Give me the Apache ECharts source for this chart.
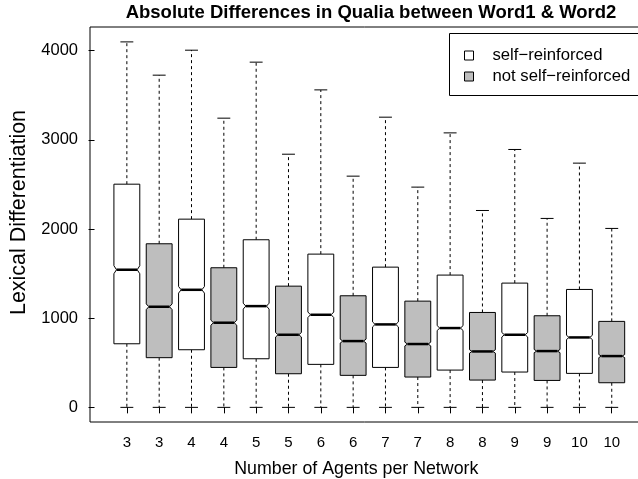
<!DOCTYPE html>
<html>
<head>
<meta charset="utf-8">
<script src="https://cdn.jsdelivr.net/npm/echarts@6/dist/echarts.min.js"></script>
<style>
  html, body { margin: 0; padding: 0; background: #fff; }
  #chart { width: 638px; height: 479px; }
</style>
</head>
<body>
<div id="chart"></div>
<script>
// data (one box per group, alternating type)
const categories = ['3', '3', '4', '4', '5', '5', '6', '6', '7', '7', '8', '8', '9', '9', '10', '10'];
const boxType = ['self', 'not', 'self', 'not', 'self', 'not', 'self', 'not',
                 'self', 'not', 'self', 'not', 'self', 'not', 'self', 'not'];
const whiskerLow = [0, 0, 0, 0, 0, 0, 0, 0, 0, 0, 0, 0, 0, 0, 0, 0];
const q1 = [713, 557, 646, 448, 545, 377, 482, 359, 448, 340, 418, 306, 396, 302, 381, 276];
const median = [1543, 1128, 1318, 949, 1135, 814, 1038, 743, 930, 710, 889, 627, 814, 631, 784, 575];
const q3 = [2502, 1834, 2110, 1565, 1879, 1359, 1718, 1251, 1572, 1191, 1483, 1064, 1393, 1027, 1322, 964];
const whiskerHigh = [4097, 3724, 4004, 3242, 3870, 2838, 3559, 2592, 3253, 2469, 3077, 2207, 2891, 2118, 2738, 2006];
// half height of the notch around the median
const notch = [45, 32, 37, 28, 33, 25, 31, 22, 28, 21, 27, 19, 25, 18, 24, 17];
const yTicks = [0, 1000, 2000, 3000, 4000];

const FONT = 'Liberation Sans, Arial, Helvetica, sans-serif';
const positions = categories.map((c, i) => i + 1);

function boxData(type) {
  const out = [];
  categories.forEach((c, i) => {
    if (boxType[i] !== type) return;
    out.push([positions[i], whiskerLow[i], q1[i], median[i], q3[i], whiskerHigh[i], notch[i]]);
  });
  return out;
}

function renderBox(params, api) {
  const x = api.value(0);
  const lo = api.coord([x, api.value(1)]);
  const b1 = api.coord([x, api.value(2)]);
  const md = api.coord([x, api.value(3)]);
  const b3 = api.coord([x, api.value(4)]);
  const hi = api.coord([x, api.value(5)]);
  const nLo = api.coord([x, api.value(3) - api.value(6)]);
  const nHi = api.coord([x, api.value(3) + api.value(6)]);
  const w = api.size([0.8, 0])[0] / 2;
  const nw = w * 0.8;
  const cx = md[0];
  const cap = w / 2;
  const stroke = { stroke: '#000', lineWidth: 1 };
  const dashed = { stroke: '#000', lineWidth: 1, lineDash: [3, 3] };
  return {
    type: 'group',
    children: [
      { type: 'line', shape: { x1: cx, y1: b3[1], x2: cx, y2: hi[1] }, style: dashed },
      { type: 'line', shape: { x1: cx, y1: b1[1], x2: cx, y2: lo[1] }, style: dashed },
      { type: 'line', shape: { x1: cx - cap, y1: hi[1], x2: cx + cap, y2: hi[1] }, style: stroke },
      { type: 'line', shape: { x1: cx - cap, y1: lo[1], x2: cx + cap, y2: lo[1] }, style: stroke },
      {
        type: 'polygon',
        shape: {
          points: [
            [cx - w, b1[1]], [cx - w, nLo[1]], [cx - nw, md[1]], [cx - w, nHi[1]], [cx - w, b3[1]],
            [cx + w, b3[1]], [cx + w, nHi[1]], [cx + nw, md[1]], [cx + w, nLo[1]], [cx + w, b1[1]]
          ]
        },
        style: { fill: api.visual('color'), stroke: '#000', lineWidth: 1 }
      },
      { type: 'line', shape: { x1: cx - nw, y1: md[1], x2: cx + nw, y2: md[1] }, style: { stroke: '#000', lineWidth: 2.5 } }
    ]
  };
}

const chart = echarts.init(document.getElementById('chart'));

const option = {
  backgroundColor: '#fff',
  animation: false,
  title: {
    text: 'Absolute Differences in Qualia between Word1 & Word2',
    left: 366,
    textAlign: 'center',
    top: -2,
    textStyle: { fontFamily: FONT, fontSize: 18.5, fontWeight: 'bold', color: '#000' }
  },
  // legend frame runs off the right edge like the original
  graphic: [
    {
      type: 'rect',
      shape: { x: 449.5, y: 33.5, width: 240, height: 62 },
      style: { fill: '#fff', stroke: '#000', lineWidth: 1 },
      z: 5
    }
  ],
  legend: {
    orient: 'vertical',
    left: 449,
    top: 33,
    padding: [14, 5, 11, 15],
    itemGap: 4,
    itemWidth: 9,
    itemHeight: 9,
    borderWidth: 0,
    z: 10,
    textStyle: { fontFamily: FONT, fontSize: 16.7, color: '#000', padding: [0, 0, 0, 14] },
    data: [
      { name: 'self−reinforced', icon: 'rect', itemStyle: { color: '#fff', borderColor: '#000', borderWidth: 1 } },
      { name: 'not self−reinforced', icon: 'rect', itemStyle: { color: '#bebebe', borderColor: '#000', borderWidth: 1 } }
    ]
  },
  grid: {
    left: 90,
    right: -10.6,
    top: 27,
    bottom: 57,
    outerBoundsMode: 'none',
    containLabel: false,
    show: true,
    borderColor: '#000',
    borderWidth: 1,
    backgroundColor: 'transparent'
  },
  xAxis: {
    type: 'value',
    min: -0.14,
    max: 17.14,
    name: 'Number of Agents per Network',
    nameLocation: 'middle',
    nameGap: 38,
    nameTextStyle: { fontFamily: FONT, fontSize: 17.8, color: '#000', padding: [0, 26, 0, 0] },
    axisLine: { show: false },
    splitLine: { show: false },
    axisTick: { show: true, customValues: positions, length: 6, lineStyle: { color: '#000' } },
    axisLabel: {
      customValues: positions,
      margin: 13,
      fontFamily: FONT,
      fontSize: 15,
      color: '#000',
      formatter: (v) => categories[Math.round(v) - 1]
    }
  },
  yAxis: {
    type: 'value',
    min: -164,
    max: 4264,
    name: 'Lexical Differentiation',
    nameLocation: 'middle',
    nameGap: 56,
    nameTextStyle: { fontFamily: FONT, fontSize: 21.5, color: '#000', padding: [0, 0, 0, 24] },
    axisLine: { show: false },
    splitLine: { show: false },
    axisTick: { show: true, customValues: yTicks, length: 6, lineStyle: { color: '#000' } },
    axisLabel: {
      customValues: yTicks,
      margin: 12,
      fontFamily: FONT,
      fontSize: 16.5,
      color: '#000',
      formatter: (v) => String(v)
    }
  },
  series: [
    {
      name: 'self−reinforced',
      type: 'custom',
      renderItem: renderBox,
      itemStyle: { color: '#fff' },
      encode: { x: 0, y: [1, 2, 3, 4, 5] },
      data: boxData('self')
    },
    {
      name: 'not self−reinforced',
      type: 'custom',
      renderItem: renderBox,
      itemStyle: { color: '#bebebe' },
      encode: { x: 0, y: [1, 2, 3, 4, 5] },
      data: boxData('not')
    }
  ]
};

chart.setOption(option);
</script>
</body>
</html>
